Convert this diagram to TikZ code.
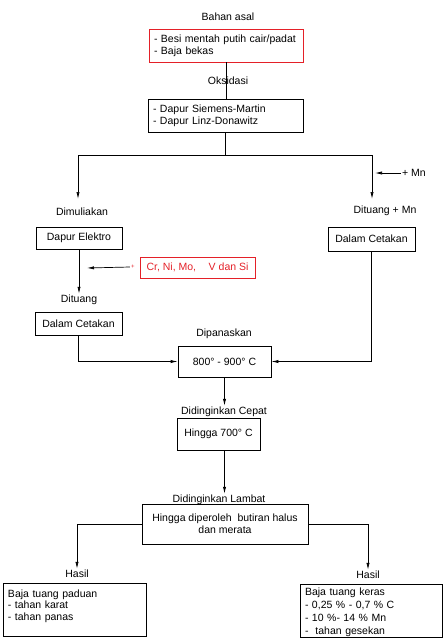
\documentclass[tikz,border=0pt]{standalone}
\usepackage{fontspec}
\setmainfont{Liberation Sans}
\usetikzlibrary{arrows.meta}
\definecolor{markred}{RGB}{228,32,40}
\begin{document}
\begin{tikzpicture}[
        x=1pt, y=-1pt,
        font=\fontsize{10.5}{12}\selectfont,
        line width=0.7pt,
        >={Latex[length=7pt, width=3.2pt]},
        lbl/.style={inner sep=1pt},
        box/.style={draw, rectangle, inner sep=0pt},
        listbox/.style={box, align=left, inner xsep=5pt},
    ]
    \useasboundingbox (0, 0) rectangle (444, 640);

    \node[lbl] (bahan) at (228, 17) {Bahan asal};
    \node[listbox, draw=markred, minimum height=33pt, text width=144pt] (src) at (226, 45.5) {- Besi mentah putih cair/padat\\- Baja bekas};
    \node[lbl] (oks) at (228, 81) {Oksidasi};
    \node[listbox, minimum height=33pt, text width=145pt] (furnace) at (225.5, 115.5) {- Dapur Siemens-Martin\\- Dapur Linz-Donawitz};

    \coordinate (fork) at (225.5, 155);
    \coordinate (tipL) at (78, 199);
    \coordinate (tipR) at (372, 199);
    \node[lbl] (mn) at (414, 173) {+ Mn};
    \coordinate (mntip) at (375, 173);

    \node[lbl] (dimul) at (82, 212) {Dimuliakan};
    \node[lbl] (dituangmn) at (385, 211) {Dituang + Mn};

    \node[box, minimum width=86pt, minimum height=22pt] (elektro) at (79, 238) {Dapur Elektro};
    \node[box, minimum width=87pt, minimum height=24pt] (castR) at (371.5, 239) {Dalam Cetakan};
    \node[box, draw=markred, text=markred, minimum width=115pt, minimum height=21pt] (alloy) at (197.5, 267.5) {Cr, Ni, Mo,\hspace{1.2em}V dan Si};
    \node[text=markred, inner sep=1pt, font=\fontsize{6}{6}\selectfont] (plus) at (133, 267) {+};
    \coordinate (alloytip) at (87, 268);

    \node[lbl] (dituang) at (79, 300) {Dituang};
    \node[box, minimum width=87pt, minimum height=23pt] (castL) at (78.5, 323.5) {Dalam Cetakan};
    \node[lbl] (panas) at (224, 334) {Dipanaskan};
    \node[box, minimum width=93pt, minimum height=31pt] (heat) at (224.5, 361.5) {800° - 900° C};

    \node[lbl] (cepat) at (224, 412) {Didinginkan Cepat};
    \node[box, minimum width=83pt, minimum height=32pt] (fast) at (218.5, 434) {Hingga 700° C};
    \node[lbl] (lambat) at (219, 500) {Didinginkan Lambat};
    \node[box, minimum width=166pt, minimum height=40pt, align=center] (slow) at (225, 524) {Hingga diperoleh\ \ butiran halus\\dan merata};

    \node[lbl] (hasilL) at (77, 574) {Hasil};
    \node[lbl] (hasilR) at (368, 575) {Hasil};
    \node[listbox, minimum height=53pt, text width=133pt, font=\fontsize{10.5}{11.5}\selectfont] (resL) at (74.5, 609.5) {\rule{0pt}{9.6pt}Baja tuang paduan\\- tahan karat\\- tahan panas\\\mbox{}};
    \node[listbox, minimum height=53pt, text width=132pt, font=\fontsize{10.5}{13}\selectfont] (resR) at (371, 610.5) {\rule{0pt}{12pt}Baja tuang keras\\- 0,25 \% - 0,7 \% C\\- 10 \%- 14 \% Mn\\-\ \ tahan gesekan};

    \draw (src.south) -- (src.south |- furnace.north);
    \draw (furnace.south) -- (fork);
    \draw[->] (fork) -| (tipL);
    \draw[->] (fork) -| (tipR);
    \draw[->] (mn.west) -- (mntip);
    \draw[->] (elektro.south) -- (elektro.south |- dituang.north);
    \draw[->] (plus.west) -- (alloytip);
    \draw[->] (castL.south) |- (heat.west);
    \draw[->] (castR.south) |- (heat.east);
    \draw[->] (heat.south) -- (heat.south |- cepat.north);
    \draw[->] (heat.south |- fast.south) -- (heat.south |- lambat.north);
    \draw[->] (slow.west) -| (hasilL.north);
    \draw[->] (slow.east) -| (hasilR.north);
\end{tikzpicture}
\end{document}
